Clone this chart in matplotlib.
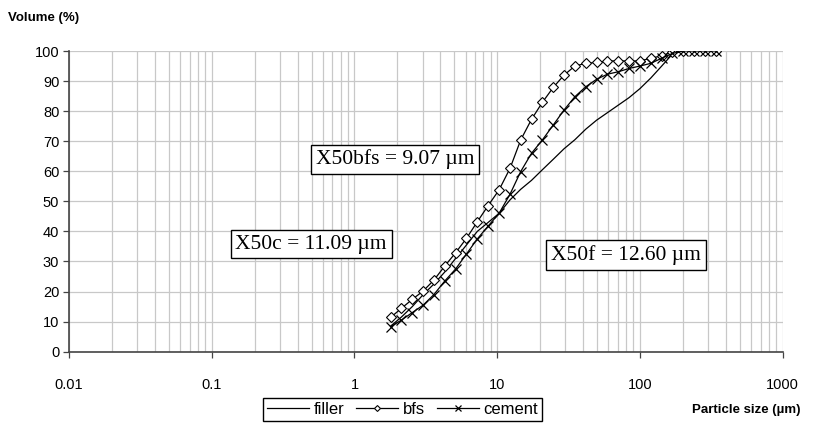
import matplotlib
matplotlib.use("Agg")
import matplotlib.pyplot as plt
from matplotlib.ticker import LogLocator, FixedLocator, NullFormatter

# particle sizes (um) shared by the three curves
size = [1.79, 2.13, 2.54, 3.03, 3.60, 4.29, 5.11, 6.09, 7.25, 8.64, 10.3,
        12.3, 14.6, 17.4, 20.7, 24.7, 29.4, 35.0, 41.7, 49.7, 59.2, 70.5,
        83.9, 100, 119, 142, 169, 201, 240, 286, 340]

filler = [8.5, 11.5, 15, 19, 22.5, 26.5, 31, 35.5, 40, 43, 46,
          50.5, 54, 57, 60.5, 64, 67.5, 70.5, 74, 77, 79.5, 82,
          84.5, 87.5, 91, 95, 99, 100, 100, 100, 100]

bfs = [11.4, 14.4, 17.4, 20.2, 23.8, 28.5, 32.9, 37.7, 43.2, 48.6, 53.8,
       61.0, 70.4, 77.3, 82.9, 87.9, 92.0, 95.0, 95.9, 96.2, 96.7, 96.7,
       96.7, 96.7, 97.6, 98.4, 99.8, 100, 100, 100, 100]

cement = [8.3, 10.5, 13, 15.5, 19, 23.5, 27.5, 32.5, 37.5, 41.8, 46,
          52.4, 59.9, 66, 70.4, 75.4, 80.4, 84.8, 88.1, 90.6, 92.3, 93.1,
          94.2, 95, 95.9, 97.6, 99.2, 100, 100, 100, 100]

x50_labels = ["X50bfs = 9.07 \u00b5m", "X50c = 11.09 \u00b5m", "X50f = 12.60 \u00b5m"]
x50_pos = [(1.92, 64), (0.496, 35.8), (80, 32.2)]

x_ticks = [0.01, 0.1, 1, 10, 100, 1000]
x_ticklabels = ["0.01", "0.1", "1", "10", "100", "1000"]

plt.rcParams['font.family'] = ['Liberation Sans', 'DejaVu Sans']

fig = plt.figure(figsize=(8.17, 4.28), dpi=100)
ax = fig.add_axes([0.0845, 0.1783, 0.8735, 0.7025])

ax.plot(size, filler, color='black', lw=0.9, label='filler')
ax.plot(size, bfs, color='black', lw=0.9, marker='D', markersize=5,
        markerfacecolor='white', markeredgewidth=0.8, label='bfs')
ax.plot(size, cement, color='black', lw=0.9, marker='x', markersize=6.5,
        markeredgewidth=0.9, label='cement')

ax.set_xscale('log')
ax.set_xlim(0.01, 1000)
ax.set_ylim(0, 100)
ax.xaxis.set_major_locator(FixedLocator(x_ticks))
ax.set_xticklabels(x_ticklabels)
ax.xaxis.set_minor_locator(LogLocator(base=10, subs=range(2, 10), numticks=20))
ax.xaxis.set_minor_formatter(NullFormatter())
ax.set_yticks(range(0, 101, 10))

ax.grid(True, which='both', axis='x', color='#c8c8c8', lw=0.9)
ax.grid(True, which='major', axis='y', color='#c8c8c8', lw=0.9)
ax.set_axisbelow(True)
ax.tick_params(axis='x', which='minor', length=0)
ax.tick_params(axis='both', which='major', length=4, width=0.9,
               color='#444444', labelsize=10.5)
ax.tick_params(axis='x', pad=15)
ax.tick_params(axis='y', pad=3)

for s in ['top', 'right']:
    ax.spines[s].set_visible(False)
for s in ['left', 'bottom']:
    ax.spines[s].set_color('#444444')
    ax.spines[s].set_linewidth(1.2)

for txt, (xx, yy) in zip(x50_labels, x50_pos):
    ax.text(xx, yy, txt, fontsize=15.5, family=['Liberation Serif', 'DejaVu Serif'],
            ha='center', va='center', zorder=5,
            bbox=dict(boxstyle='square,pad=0.22', facecolor='white',
                      edgecolor='black', lw=1))

fig.text(0.01, 0.958, "Volume (%)", fontsize=9.5, fontweight='bold', va='center')
fig.text(0.98, 0.043, "Particle size (\u00b5m)", fontsize=9.5, fontweight='bold',
         ha='right', va='center')

fig.legend(loc='center', bbox_to_anchor=(0.493, 0.043), ncol=3, fontsize=12,
           frameon=True, fancybox=False, edgecolor='black', framealpha=1,
           handlelength=2.5, handletextpad=0.3, columnspacing=0.7,
           borderpad=0.25, markerscale=0.6)

fig.savefig("out.png", dpi=100)
